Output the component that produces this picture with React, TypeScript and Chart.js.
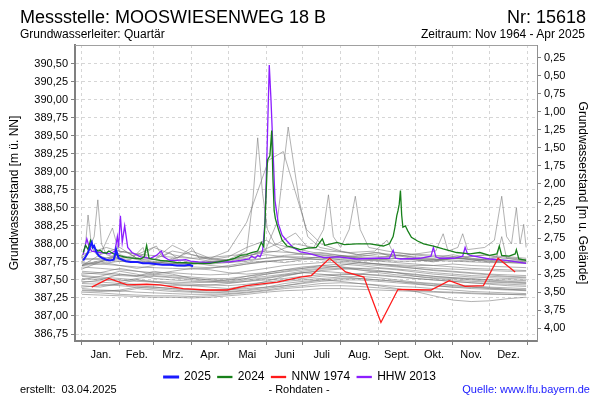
import React, { useEffect, useRef } from "react";
import { Chart, registerables } from "chart.js";

Chart.register(...registerables);

// ---- axis configuration values ----
const GROUND = 390.83; // Geländehöhe (m ü. NN)
const Y_MIN = 386.653;
const Y_MAX = 390.757;
const X_MIN = -5.7;
const X_MAX = 372.9;

const MONTH_STARTS = [0, 31, 59, 90, 120, 151, 181, 212, 243, 273, 304, 334, 365];
const MONTH_LABELS = ["Jan.", "Feb.", "Mrz.", "Apr.", "Mai", "Juni", "Juli", "Aug.", "Sept.", "Okt.", "Nov.", "Dez."];
const LEFT_TICKS = [386.75, 387.0, 387.25, 387.5, 387.75, 388.0, 388.25, 388.5, 388.75, 389.0, 389.25, 389.5, 389.75, 390.0, 390.25, 390.5];
const RIGHT_TICKS = [0.25, 0.5, 0.75, 1.0, 1.25, 1.5, 1.75, 2.0, 2.25, 2.5, 2.75, 3.0, 3.25, 3.5, 3.75, 4.0];

// ---- highlighted series: [day of year, level m ü. NN] ----
const SERIES_2025: [number, number][] = [
  [1, 387.77], [3, 387.82], [5, 387.88], [7, 387.98], [8, 388.02], [9, 387.95], [10, 387.97], [12, 387.88],
  [14, 387.83], [17, 387.8], [20, 387.78], [23, 387.77], [26, 387.78], [27, 387.84], [28, 387.92], [29, 387.86],
  [30, 387.8], [33, 387.78], [36, 387.76], [40, 387.75], [45, 387.75], [50, 387.73], [55, 387.73], [60, 387.72],
  [66, 387.71], [72, 387.71], [78, 387.7], [84, 387.7], [88, 387.71], [91, 387.69],
];

const SERIES_2024: [number, number][] = [
  [1, 387.88], [3, 387.98], [5, 387.92], [7, 388.05], [9, 387.97], [11, 387.93], [13, 387.9], [15, 387.91],
  [17, 387.88], [20, 387.87], [22, 387.9], [24, 387.88], [26, 387.86], [30, 387.84], [37, 387.81], [44, 387.8],
  [48, 387.79], [51, 387.82], [53, 387.98], [55, 387.8], [60, 387.78], [64, 387.77], [70, 387.76], [78, 387.74],
  [85, 387.74], [91, 387.73], [98, 387.73], [105, 387.73], [112, 387.75], [119, 387.77], [125, 387.8], [130, 387.84],
  [135, 387.85], [139, 387.88], [144, 387.9], [147, 388.02], [149, 387.96], [150, 388.3], [152, 389.16], [154, 389.22],
  [155.5, 389.57], [156.5, 388.9], [157.5, 388.46], [158.5, 388.35], [161, 388.2], [164, 388.05], [168, 387.97],
  [173, 387.95], [179, 387.92], [185, 387.94], [192, 387.95], [197, 388.07], [199, 387.98], [204, 388.0], [209, 388.02],
  [215, 387.99], [225, 388.0], [236, 388.0], [247, 387.97], [252, 388.0], [255, 388.1], [256.5, 388.23], [258, 388.39],
  [259, 388.46], [260, 388.55], [261, 388.74], [262, 388.4], [263, 388.23], [265, 388.25], [267, 388.18], [270, 388.09],
  [275, 388.04], [280, 388.0], [288, 387.97], [296, 387.93], [307, 387.88], [318, 387.86], [326, 387.88], [334, 387.84],
  [340, 387.86], [342, 387.97], [344, 387.84], [350, 387.83], [355, 387.86], [356, 387.92], [358, 387.79], [364, 387.77],
];

const SERIES_NNW_1974: [number, number][] = [
  [8, 387.4], [22, 387.52], [37, 387.43], [53, 387.44], [64, 387.43], [83, 387.38], [102, 387.36], [119, 387.36],
  [135, 387.42], [160, 387.47], [179, 387.54], [188, 387.56], [203, 387.8], [216, 387.61], [231, 387.54], [245, 386.91],
  [259, 387.37], [286, 387.36], [301, 387.49], [314, 387.41], [329, 387.42], [341, 387.8], [355, 387.61],
];

const SERIES_HHW_2013: [number, number][] = [
  [1, 387.85], [4, 388.07], [6, 387.95], [8, 387.9], [15, 387.88], [23, 387.86], [27, 387.9], [29, 388.1], [30, 387.95],
  [31.5, 388.39], [33, 388.02], [35, 388.25], [37.5, 387.95], [41, 387.88], [48, 387.82], [56, 387.8], [61, 387.84],
  [65, 387.9], [67, 387.82], [72, 387.77], [78, 387.77], [85, 387.78], [89, 387.76], [95, 387.75], [105, 387.74],
  [115, 387.75], [121, 387.75], [130, 387.77], [137, 387.79], [139, 387.83], [142, 387.8], [144, 387.84], [146, 387.82],
  [148, 387.9], [150, 388.3], [151.7, 389.3], [153.5, 390.48], [154.9, 390.0], [156.8, 389.2], [158.2, 388.6],
  [160.9, 388.28], [164, 388.12], [168, 388.04], [173, 387.95], [179, 387.89], [185, 387.87], [198, 387.81],
  [210, 387.82], [225, 387.79], [240, 387.8], [252, 387.8], [255, 387.91], [257, 387.8], [261, 387.79], [277, 387.8],
  [286, 387.83], [288, 387.95], [290, 387.82], [293, 387.8], [305, 387.8], [312, 387.83], [314, 387.95], [316, 387.86],
  [318, 387.84], [334, 387.79], [348, 387.77], [364, 387.73],
];

// ---- historic years (grey), semi-monthly readings ----
const GRAY_DAYS = [0, 15, 31, 45, 59, 74, 90, 105, 120, 135, 151, 166, 181, 196, 212, 227, 243, 258, 273, 288, 304, 319, 334, 349, 364];
const GRAY_LEVELS: number[][] = [
  [387.55, 387.52, 387.5, 387.48, 387.47, 387.45, 387.44, 387.43, 387.42, 387.44, 387.47, 387.5, 387.52, 387.55, 387.57, 387.58, 387.57, 387.55, 387.52, 387.5, 387.48, 387.46, 387.45, 387.44, 387.43],
  [387.6, 387.58, 387.56, 387.55, 387.56, 387.54, 387.52, 387.5, 387.5, 387.52, 387.55, 387.58, 387.62, 387.65, 387.66, 387.64, 387.62, 387.6, 387.58, 387.55, 387.53, 387.52, 387.5, 387.5, 387.49],
  [387.45, 387.44, 387.42, 387.4, 387.4, 387.38, 387.37, 387.36, 387.36, 387.38, 387.4, 387.42, 387.45, 387.48, 387.5, 387.5, 387.48, 387.46, 387.44, 387.42, 387.4, 387.38, 387.37, 387.36, 387.35],
  [387.68, 387.66, 387.64, 387.62, 387.6, 387.6, 387.58, 387.57, 387.58, 387.62, 387.66, 387.7, 387.72, 387.74, 387.74, 387.72, 387.7, 387.68, 387.66, 387.64, 387.62, 387.6, 387.58, 387.57, 387.56],
  [387.38, 387.36, 387.35, 387.33, 387.32, 387.31, 387.3, 387.3, 387.31, 387.33, 387.36, 387.4, 387.42, 387.45, 387.46, 387.45, 387.43, 387.41, 387.4, 387.38, 387.36, 387.34, 387.33, 387.32, 387.31],
  [387.5, 387.55, 387.62, 387.58, 387.52, 387.5, 387.48, 387.47, 387.46, 387.48, 387.52, 387.56, 387.6, 387.62, 387.6, 387.58, 387.62, 387.6, 387.55, 387.52, 387.5, 387.48, 387.47, 387.46, 387.45],
  [387.8, 387.78, 387.76, 387.75, 387.74, 387.73, 387.72, 387.72, 387.74, 387.78, 387.8, 387.82, 387.82, 387.8, 387.78, 387.77, 387.78, 387.8, 387.79, 387.77, 387.76, 387.75, 387.74, 387.74, 387.73],
  [387.72, 387.75, 387.85, 387.78, 387.74, 387.78, 387.9, 387.8, 387.76, 387.8, 387.85, 387.82, 387.8, 387.78, 387.84, 387.8, 387.77, 387.8, 387.78, 387.76, 387.82, 387.78, 387.75, 387.74, 387.73],
  [387.42, 387.4, 387.45, 387.5, 387.47, 387.44, 387.42, 387.4, 387.38, 387.42, 387.48, 387.55, 387.6, 387.58, 387.55, 387.52, 387.5, 387.48, 387.45, 387.42, 387.4, 387.4, 387.38, 387.37, 387.36],
  [387.62, 387.6, 387.58, 387.56, 387.58, 387.62, 387.66, 387.64, 387.6, 387.58, 387.6, 387.64, 387.68, 387.7, 387.72, 387.7, 387.67, 387.65, 387.63, 387.6, 387.58, 387.56, 387.55, 387.54, 387.53],
  [387.48, 387.47, 387.45, 387.44, 387.43, 387.42, 387.42, 387.43, 387.45, 387.48, 387.5, 387.52, 387.55, 387.57, 387.58, 387.58, 387.56, 387.54, 387.52, 387.5, 387.48, 387.46, 387.44, 387.42, 387.41],
  [387.7, 387.85, 387.95, 387.8, 387.78, 387.98, 387.85, 387.78, 387.82, 387.95, 388.05, 387.9, 387.85, 387.88, 387.84, 387.82, 387.86, 387.84, 387.82, 387.8, 387.85, 387.8, 387.78, 387.77, 387.76],
  [387.33, 387.32, 387.3, 387.29, 387.28, 387.28, 387.27, 387.28, 387.3, 387.32, 387.35, 387.38, 387.4, 387.42, 387.42, 387.41, 387.39, 387.37, 387.36, 387.34, 387.33, 387.32, 387.31, 387.3, 387.3],
  [387.56, 387.54, 387.52, 387.5, 387.48, 387.47, 387.46, 387.47, 387.5, 387.55, 387.6, 387.64, 387.66, 387.68, 387.68, 387.66, 387.63, 387.6, 387.57, 387.55, 387.53, 387.51, 387.5, 387.48, 387.47],
  [387.65, 387.75, 387.7, 387.66, 387.7, 387.8, 387.74, 387.7, 387.68, 387.72, 387.76, 387.74, 387.78, 387.82, 387.78, 387.75, 387.72, 387.7, 387.68, 387.66, 387.65, 387.64, 387.63, 387.62, 387.62],
  [387.4, 387.42, 387.44, 387.42, 387.4, 387.38, 387.36, 387.35, 387.36, 387.4, 387.44, 387.48, 387.5, 387.52, 387.54, 387.55, 387.53, 387.5, 387.47, 387.45, 387.43, 387.42, 387.4, 387.39, 387.38],
  [387.52, 387.5, 387.48, 387.52, 387.55, 387.53, 387.5, 387.48, 387.47, 387.5, 387.53, 387.57, 387.6, 387.63, 387.65, 387.66, 387.66, 387.64, 387.61, 387.58, 387.56, 387.54, 387.53, 387.52, 387.51],
  [387.58, 387.6, 387.66, 387.62, 387.58, 387.56, 387.54, 387.52, 387.52, 387.55, 387.58, 387.61, 387.64, 387.66, 387.7, 387.74, 387.72, 387.69, 387.66, 387.63, 387.61, 387.59, 387.57, 387.55, 387.54],
  [387.36, 387.35, 387.34, 387.38, 387.36, 387.34, 387.33, 387.32, 387.33, 387.35, 387.38, 387.42, 387.46, 387.5, 387.52, 387.52, 387.5, 387.48, 387.46, 387.44, 387.42, 387.4, 387.39, 387.37, 387.36],
  [387.74, 387.72, 387.7, 387.68, 387.67, 387.66, 387.65, 387.66, 387.7, 387.74, 387.76, 387.78, 387.79, 387.78, 387.76, 387.74, 387.72, 387.71, 387.7, 387.7, 387.72, 387.7, 387.69, 387.68, 387.67],
  [387.3, 387.29, 387.28, 387.27, 387.26, 387.26, 387.25, 387.26, 387.28, 387.3, 387.33, 387.35, 387.36, 387.38, 387.38, 387.37, 387.36, 387.35, 387.34, 387.33, 387.32, 387.31, 387.3, 387.3, 387.29],
  [387.46, 387.5, 387.58, 387.55, 387.62, 387.58, 387.52, 387.5, 387.48, 387.52, 387.58, 387.62, 387.66, 387.7, 387.68, 387.64, 387.6, 387.57, 387.55, 387.53, 387.52, 387.5, 387.48, 387.47, 387.46],
  [387.78, 387.8, 387.82, 387.8, 387.95, 387.85, 387.8, 387.76, 387.74, 387.76, 387.8, 387.84, 387.86, 387.85, 387.82, 387.8, 387.78, 387.76, 387.76, 387.78, 387.8, 387.79, 387.77, 387.76, 387.75],
  [387.35, 387.34, 387.36, 387.4, 387.38, 387.36, 387.34, 387.33, 387.34, 387.36, 387.4, 387.45, 387.48, 387.5, 387.48, 387.45, 387.42, 387.38, 387.34, 387.28, 387.22, 387.2, 387.21, 387.24, 387.26],
  [387.7, 387.72, 387.76, 387.74, 387.72, 387.7, 387.68, 387.67, 387.68, 387.72, 387.75, 387.78, 387.8, 387.82, 387.8, 387.78, 387.76, 387.74, 387.72, 387.7, 387.68, 387.66, 387.65, 387.64, 387.63],
];

// ---- historic years (grey), daily readings with peaks ----
const GRAY_DAILY_A: [number, number][] = [
  [0, 387.75], [5, 387.9], [10, 388.1], [13, 388.61], [16, 388.0], [20, 387.85], [30, 387.8], [40, 387.78], [50, 387.95],
  [53, 387.8], [70, 387.76], [90, 387.72], [110, 387.75], [130, 387.8], [150, 387.9], [160, 388.3], [169, 389.62],
  [178, 388.6], [185, 388.1], [195, 387.95], [210, 387.9], [225, 387.85], [240, 387.88], [255, 387.85], [270, 387.8],
  [290, 387.78], [310, 387.8], [330, 387.78], [345, 387.82], [364, 387.78],
];
const GRAY_DAILY_B: [number, number][] = [
  [0, 387.8], [3, 388.0], [5, 388.4], [8, 387.95], [12, 387.85], [20, 387.8], [35, 387.9], [45, 387.8], [60, 387.75],
  [80, 387.72], [100, 387.74], [120, 387.78], [135, 387.9], [140, 388.6], [144, 389.47], [148, 388.7], [152, 388.2],
  [158, 388.0], [170, 387.95], [190, 387.88], [205, 387.85], [220, 387.82], [240, 387.8], [260, 387.85], [275, 387.8],
  [300, 387.78], [320, 387.76], [340, 387.82], [344, 388.1], [348, 387.8], [364, 387.76],
];
const GRAY_DAILY_C: [number, number][] = [
  [0, 387.7], [15, 387.75], [31, 387.8], [46, 387.85], [59, 387.78], [74, 387.9], [90, 387.85], [105, 387.8], [120, 387.9],
  [135, 388.3], [153, 389.16], [165, 389.28], [177, 388.6], [184, 388.2], [196, 388.0], [212, 387.9], [227, 387.85],
  [243, 387.88], [258, 387.8], [273, 387.78], [288, 387.75], [304, 387.8], [319, 387.78], [334, 387.76], [349, 387.75],
  [364, 387.74],
];
const GRAY_DAILY_D: [number, number][] = [
  [0, 387.7], [10, 387.75], [25, 387.8], [40, 387.76], [60, 387.74], [80, 387.72], [100, 387.75], [120, 387.78],
  [140, 387.85], [160, 387.9], [175, 388.0], [190, 387.95], [198, 388.2], [202, 388.68], [206, 388.1], [212, 387.95],
  [219, 388.2], [224, 388.66], [228, 388.2], [235, 387.95], [250, 387.9], [270, 387.85], [290, 387.82], [310, 387.8],
  [330, 387.85], [345, 387.8], [364, 387.78],
];
const GRAY_DAILY_E: [number, number][] = [
  [0, 387.85], [10, 387.9], [20, 387.95], [30, 387.9], [50, 387.85], [70, 387.82], [90, 387.8], [110, 387.82],
  [130, 387.85], [150, 387.9], [170, 387.88], [190, 387.85], [210, 387.82], [230, 387.84], [250, 387.82], [270, 387.85],
  [290, 387.9], [296, 388.14], [300, 387.9], [308, 387.95], [312, 388.14], [316, 387.92], [330, 387.95], [338, 388.05],
  [344, 388.66], [348, 388.1], [352, 388.0], [356, 388.5], [359, 388.0], [362, 388.27], [364, 387.95],
];
const GRAY_DAILY_F: [number, number][] = [
  [0, 387.8], [8, 387.95], [15, 387.85], [25, 388.22], [30, 387.9], [45, 387.85], [61, 387.97], [66, 387.82],
  [72, 387.88], [78, 387.8], [90, 387.95], [96, 387.8], [120, 387.78], [140, 387.85], [160, 388.0], [175, 388.15],
  [185, 387.95], [200, 387.9], [220, 387.88], [240, 387.9], [250, 388.05], [255, 387.88], [270, 387.86], [290, 387.84],
  [310, 387.82], [330, 387.84], [350, 387.82], [364, 387.8],
];

const GRAY_DAILY = [GRAY_DAILY_A, GRAY_DAILY_B, GRAY_DAILY_C, GRAY_DAILY_D, GRAY_DAILY_E, GRAY_DAILY_F];

const MONTH_MIDS = MONTH_LABELS.map((_, i) => (MONTH_STARTS[i] + MONTH_STARTS[i + 1]) / 2);
const X_TICK_VALUES = [...MONTH_STARTS, ...MONTH_MIDS].sort((a, b) => a - b);

const FONT = "'Liberation Sans', Arial, Helvetica, sans-serif";
const GRAY = "rgba(115,115,115,0.55)";

function fromPairs(p: [number, number][]) {
  return p.map(([x, y]) => ({ x, y }));
}

function colored(label: string, pairs: [number, number][], color: string, width: number) {
  return {
    label,
    data: fromPairs(pairs),
    borderColor: color,
    backgroundColor: color,
    borderWidth: width,
    pointRadius: 0,
    pointHoverRadius: 0,
    tension: 0,
    fill: false,
  };
}

function gray(data: { x: number; y: number }[]) {
  return {
    label: "",
    data,
    borderColor: GRAY,
    backgroundColor: GRAY,
    borderWidth: 1,
    pointRadius: 0,
    pointHoverRadius: 0,
    tension: 0,
    fill: false,
  };
}

const fmt = (v: number) => Number(v).toFixed(2).replace(".", ",");

const topBorder = {
  id: "topBorder",
  afterDraw(chart: any) {
    const { ctx, chartArea } = chart;
    ctx.save();
    ctx.strokeStyle = "#a0a0a0";
    ctx.lineWidth = 1;
    ctx.beginPath();
    ctx.moveTo(chartArea.left, chartArea.top + 0.5);
    ctx.lineTo(chartArea.right, chartArea.top + 0.5);
    ctx.stroke();
    ctx.restore();
  },
};

export default function App() {
  const ref = useRef<HTMLCanvasElement>(null);

  useEffect(() => {
    if (!ref.current) return;
    const datasets: any[] = [
      colored("2025", SERIES_2025, "#1a1aff", 2),
      colored("2024", SERIES_2024, "#17801a", 1.3),
      colored("NNW 1974", SERIES_NNW_1974, "#ff1a1a", 1.3),
      colored("HHW 2013", SERIES_HHW_2013, "#8c1eff", 1.3),
      ...GRAY_DAILY.map((p) => gray(fromPairs(p))),
      ...GRAY_LEVELS.map((vals) => gray(GRAY_DAYS.map((d, i) => ({ x: d, y: vals[i] })))),
    ];

    Chart.defaults.font.family = FONT;
    Chart.defaults.color = "#000";

    const chart = new Chart(ref.current, {
      type: "line",
      data: { datasets },
      plugins: [topBorder],
      options: {
        responsive: false,
        animation: false,
        events: [],
        layout: { padding: { top: 45, bottom: 7, left: 0, right: 0 } },
        plugins: {
          legend: {
            position: "bottom",
            labels: {
              filter: (item: any) => !!item.text,
              boxWidth: 14,
              boxHeight: 1,
              padding: 7,
              font: { size: 12, family: FONT },
              color: "#000",
            },
          },
          tooltip: { enabled: false },
        },
        scales: {
          x: {
            type: "linear",
            min: X_MIN,
            max: X_MAX,
            afterBuildTicks: (axis: any) => {
              axis.ticks = X_TICK_VALUES.map((v) => ({ value: v }));
            },
            afterFit: (s: any) => {
              s.height = 23;
            },
            ticks: {
              autoSkip: false,
              maxRotation: 0,
              minRotation: 0,
              padding: 3,
              font: { size: 11, family: FONT },
              color: "#000",
              callback: (v: any) => {
                const i = MONTH_MIDS.indexOf(Number(v));
                return i >= 0 ? MONTH_LABELS[i] : "";
              },
            },
            grid: {
              color: (c: any) => (MONTH_STARTS.includes(c.tick?.value) ? "#d6d6d6" : "rgba(0,0,0,0)"),
              tickColor: (c: any) => (MONTH_STARTS.includes(c.tick?.value) ? "#808080" : "rgba(0,0,0,0)"),
              tickLength: 4,
              lineWidth: 1,
            },
            border: { display: true, color: "#808080", width: 2, dash: [3, 3] },
          },
          y: {
            type: "linear",
            position: "left",
            min: Y_MIN,
            max: Y_MAX,
            afterBuildTicks: (axis: any) => {
              axis.ticks = LEFT_TICKS.map((v) => ({ value: v }));
            },
            afterFit: (s: any) => {
              s.width = 75;
            },
            ticks: { padding: 3, font: { size: 11, family: FONT }, color: "#000", callback: (v: any) => fmt(v) },
            grid: { color: "#d6d6d6", tickColor: "#808080", tickLength: 4, lineWidth: 1 },
            border: { display: true, color: "#808080", width: 2, dash: [3, 3] },
            title: {
              display: true,
              text: "Grundwasserstand [m ü. NN]",
              font: { size: 12, family: FONT },
              color: "#000",
              padding: { top: 7, bottom: 0 },
            },
          },
          y2: {
            type: "linear",
            position: "right",
            reverse: true,
            min: GROUND - Y_MAX,
            max: GROUND - Y_MIN,
            afterBuildTicks: (axis: any) => {
              axis.ticks = RIGHT_TICKS.map((v) => ({ value: v }));
            },
            afterFit: (s: any) => {
              s.width = 63;
            },
            ticks: { padding: 3, font: { size: 11, family: FONT }, color: "#000", callback: (v: any) => fmt(v) },
            grid: { drawOnChartArea: false, tickColor: "#808080", tickLength: 4 },
            border: { display: true, color: "#909090", width: 1 },
            title: {
              display: true,
              text: "Grundwasserstand [m u. Gelände]",
              font: { size: 12, family: FONT },
              color: "#000",
              padding: { top: 10, bottom: 0 },
            },
          },
        },
      } as any,
    });
    return () => chart.destroy();
  }, []);

  const text = (style: React.CSSProperties, content: string) => (
    <div style={{ position: "absolute", lineHeight: 1, whiteSpace: "pre", fontFamily: FONT, color: "#000", ...style }}>
      {content}
    </div>
  );

  return (
    <div style={{ position: "absolute", left: 0, top: 0, width: 600, height: 400, background: "#fff", overflow: "hidden" }}>
      <canvas ref={ref} width={600} height={400} style={{ position: "absolute", left: 0, top: 0, width: 600, height: 400 }} />
      {text({ left: 20, top: 8, fontSize: 18 }, "Messstelle: MOOSWIESENWEG 18 B")}
      {text({ right: 14, top: 8, fontSize: 18 }, "Nr: 15618")}
      {text({ left: 20, top: 28, fontSize: 12 }, "Grundwasserleiter: Quartär")}
      {text({ right: 15, top: 28, fontSize: 12 }, "Zeitraum: Nov 1964 - Apr 2025")}
      {text({ left: 20, top: 384, fontSize: 11 }, "erstellt:  03.04.2025")}
      {text({ left: 0, width: 598, top: 384, fontSize: 11, textAlign: "center" }, "- Rohdaten -")}
      {text({ right: 10, top: 384, fontSize: 11, color: "#1a1aff" }, "Quelle: www.lfu.bayern.de")}
    </div>
  );
}
